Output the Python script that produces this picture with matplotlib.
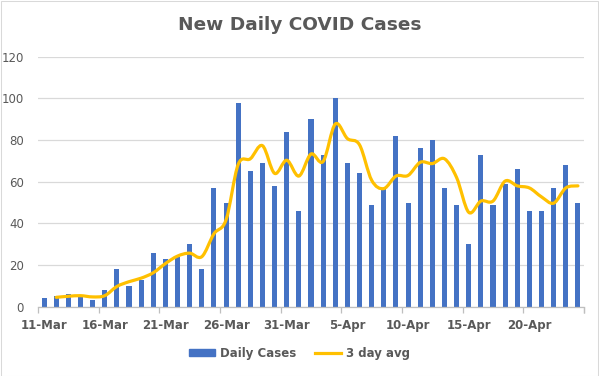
import matplotlib
matplotlib.use("Agg")
import matplotlib.pyplot as plt
from matplotlib.path import Path
from matplotlib.patches import PathPatch, Rectangle
from matplotlib.lines import Line2D
import numpy as np
import datetime as dt

start = dt.date(2020, 3, 11)
dates = [start + dt.timedelta(days=i) for i in range(45)]
date_labels = [f"{d.day}-{d.strftime('%b')}" for d in dates]

daily_cases = [4, 5, 6, 5, 3, 8, 18, 10, 13, 26, 23, 24, 30, 18, 57, 50, 98, 65,
               69, 58, 84, 46, 90, 73, 100, 69, 64, 49, 57, 82, 50, 76, 80, 57,
               49, 30, 73, 49, 59, 66, 46, 46, 57, 68, 50]

# 3 day avg (starts on the 2nd day)
avg_start = 1
avg3 = [4.5, 5.0, 5.3, 4.7, 5.3, 9.7, 12.0, 13.7, 16.3, 20.7, 24.3, 25.7, 24.0,
        35.0, 41.7, 68.3, 71.0, 77.3, 64.0, 70.3, 62.7, 73.3, 69.7, 87.7, 80.7,
        77.7, 60.7, 56.7, 62.7, 63.0, 69.3, 68.7, 71.0, 62.0, 45.3, 50.7, 50.7,
        60.3, 58.0, 57.0, 52.7, 49.7, 57.0, 58.0]

yticks = [0, 20, 40, 60, 80, 100, 120]

TXT = "#595959"
fig = plt.figure(figsize=(5.99, 3.76), dpi=100)
fig.patches.append(Rectangle((0.5/599, 0.5/376), 1 - 2/599, 1 - 1/376,
                             transform=fig.transFigure, fill=False,
                             edgecolor="#D9D9D9", linewidth=0.75))
ax = fig.add_axes([38/599, 1 - 306.7/376, (584 - 38)/599, (306.7 - 56.7)/376])

x = np.arange(len(daily_cases))
ax.bar(x, daily_cases, width=0.42, color="#4472C4", zorder=2)

# smoothed line (Catmull-Rom style Bezier like Excel)
xa = np.arange(avg_start, avg_start + len(avg3), dtype=float)
ya = np.array(avg3, dtype=float)
verts = [(xa[0], ya[0])]
codes = [Path.MOVETO]
n = len(xa)
for i in range(n - 1):
    p0 = (xa[i - 1], ya[i - 1]) if i > 0 else (xa[i], ya[i])
    p1 = (xa[i], ya[i])
    p2 = (xa[i + 1], ya[i + 1])
    p3 = (xa[i + 2], ya[i + 2]) if i + 2 < n else p2
    t = 1 / 6
    c1 = (p1[0] + (p2[0] - p0[0]) * t, p1[1] + (p2[1] - p0[1]) * t)
    c2 = (p2[0] - (p3[0] - p1[0]) * t, p2[1] - (p3[1] - p1[1]) * t)
    verts += [c1, c2, p2]
    codes += [Path.CURVE4] * 3
ax.add_patch(PathPatch(Path(verts, codes), facecolor="none", edgecolor="#FFC000",
                       linewidth=2.3, zorder=3, capstyle="round", joinstyle="round"))

ax.set_xlim(-0.5, len(daily_cases) - 0.5)
ax.set_ylim(0, 120)
ax.set_yticks(yticks)
ax.yaxis.grid(True, color="#D9D9D9", linewidth=0.9, zorder=0)
ax.set_axisbelow(True)
for s in ["top", "right", "left"]:
    ax.spines[s].set_visible(False)
ax.spines["bottom"].set_color("#BFBFBF")
ax.spines["bottom"].set_linewidth(0.9)
ax.tick_params(axis="y", length=0, pad=10, labelcolor=TXT, labelsize=8.5)

major = list(range(0, len(daily_cases), 5))
ax.set_xticks(major)
ax.set_xticklabels([date_labels[i] for i in major], fontsize=8.5, color=TXT,
                   fontweight="bold")
ax.tick_params(axis="x", which="major", length=0, pad=9)
ax.set_xticks(np.arange(-0.5, len(daily_cases), 5).tolist() + [len(daily_cases) - 0.5], minor=True)
ax.tick_params(axis="x", which="minor", length=4, color="#BFBFBF", width=0.9)

fig.text(0.5, 1 - 25.5/376, "New Daily COVID Cases", ha="center", va="center",
         fontsize=13.3, fontweight="bold", color=TXT)

handles = [Rectangle((0, 0), 1, 1, color="#4472C4"),
           Line2D([0], [0], color="#FFC000", linewidth=2.3)]
fig.legend(handles, ["Daily Cases", "3 day avg"], loc="center",
           bbox_to_anchor=(0.5, 1 - 353/376), ncol=2, frameon=False,
           prop={"size": 8.5, "weight": "bold"}, labelcolor=TXT,
           handlelength=2.2, handleheight=0.5,
           columnspacing=1.6, handletextpad=0.4)

fig.savefig("out.png", dpi=100)
